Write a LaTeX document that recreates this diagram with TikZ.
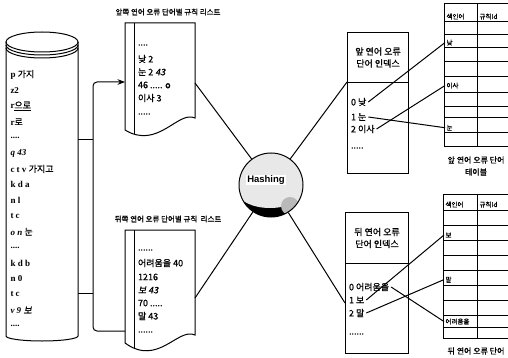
\documentclass[tikz,border=0pt]{standalone}
\usepackage{fontspec}
\setmainfont{Liberation Serif}
\setsansfont{Liberation Sans}
\newfontfamily\kr[FakeBold=0.8, AutoFakeSlant=0.2]{Noto Sans CJK KR}
\newcommand\hg[1]{{\kr\mdseries #1}}
\newcommand\dotsiv{....}
\newcommand\dotsv{.....}
\newcommand\dotsvi{......}
\usetikzlibrary{arrows.meta}

\begin{document}
\begin{tikzpicture}[>=Stealth, x=1pt, y=-1pt, line width=1pt,
    cyl/.style={anchor=west, inner sep=1pt, font=\bfseries\fontsize{9}{10}\selectfont},
    txt/.style={anchor=west, inner sep=1.5pt, font=\kr\fontsize{9}{10}\selectfont},
    ttl/.style={inner sep=1pt, font=\kr\fontsize{7.5}{8}\selectfont},
    tab/.style={anchor=south west, inner sep=1pt, font=\kr\fontsize{6.5}{7}\selectfont}]
\useasboundingbox (0,0) rectangle (508,358);

% corpus
\draw (6,42) -- (6,336) arc[start angle=180, end angle=0, x radius=36, y radius=5] -- (78,42);
\draw (42,42) ellipse [x radius=36, y radius=10];
\draw (6,45) arc[start angle=180, end angle=0, x radius=36, y radius=10];
\draw (6,48) arc[start angle=180, end angle=0, x radius=36, y radius=10];
\foreach \t [count=\i] in {p \hg{가지}, z2, r\hg{\underline{으로}}, r\hg{로}, \dotsiv, {\itshape q 43},
    c t v \hg{가지고}, k d a, n l, t c, {\itshape o n} \hg{눈}, \dotsiv, k d b, n 0, t c,
    {\itshape v 9} \hg{\itshape 보}, \dotsiv}
  \node[cyl] (c\i) at (9,59+15.7*\i) {\t};

\coordinate (cq) at (78,140);
\coordinate (cv) at (78,293);
\coordinate (fork) at (93,0);
\coordinate (fwdin) at (125,82);
\coordinate (bwdin) at (125,331);
\draw (cq) -- (cq -| fork);
\draw (cv) -- (cv -| fork);
\draw[<-, rounded corners=4] (fwdin) -| (fork |- bwdin) -- (bwdin);

% rule lists
\draw (125,23) -- (195,23) -- (195,118) .. controls (178,110) and (158,150) .. (125,130) -- cycle;
\draw (134,23) -- (134,134);
\draw (125,230) -- (195,230) -- (195,335) .. controls (178,327) and (158,367) .. (125,343) -- cycle;
\draw (134,230) -- (134,348);
\node[ttl] (fwdttl) at (168,12) {앞쪽 연어 오류 단어별 규칙 리스트};
\node[ttl] (bwdttl) at (168,219) {뒤쪽 연어 오류 단어별 규칙 \ 리스트};
\foreach \y/\t [count=\i] in {45/\dotsiv, 59/{낮 2}, 72/{눈 2 {\itshape 43}}, 85/{46 \dotsv{} o},
    98/{이사 3}, 114/\dotsv}
  \node[txt] (fl\i) at (136,\y) {\t};
\foreach \y/\t [count=\i] in {250/\dotsvi, 263/{어려움을 40}, 277/{1216}, 290/{\itshape 보 43},
    303/{70 \dotsv}, 316/{말 43}, 332/\dotsvi}
  \node[txt] (bl\i) at (136,\y) {\t};
\coordinate (fwdout) at (195,83);
\coordinate (bwdout) at (195,298);

% hashing
\fill[gray!18] (271,185) circle (32);
\begin{scope}
  \clip (271,185) circle (32);
  \fill[black] (266,212) ellipse [x radius=28, y radius=16];
  \fill[gray!18] (270,192) ellipse [x radius=32, y radius=16];
  \fill[gray!55] (290,206) circle (9);
\end{scope}
\node[circle, draw, minimum size=64, inner sep=0pt] (hash) at (271,185) {};
\node[inner sep=1pt, fill=white, font=\sffamily\bfseries\fontsize{9.5}{10}\selectfont] (hashlbl) at (266,180) {Hashing};

% index
\node[draw, anchor=north west, minimum width=61, minimum height=50, align=center,
      font=\kr\fontsize{9}{12}\selectfont] (fwdhead) at (347,32) {앞 연어 오류\\단어 인덱스};
\node[draw, anchor=north west, minimum width=61, minimum height=91] (fwdbody) at (347,82) {};
\node[txt] (fi0) at (349,102) {0 낮};
\node[txt] (fi1) at (349,117) {1 눈};
\node[txt] (fi2) at (349,129) {2 이사};
\node[txt] (fi3) at (349,148) {\dotsv};
\node[draw, anchor=north west, minimum width=63, minimum height=51, align=center,
      font=\kr\fontsize{9}{12}\selectfont] (bwdhead) at (345,212) {뒤 연어 오류\\단어 인덱스};
\node[draw, anchor=north west, minimum width=63, minimum height=90] (bwdbody) at (345,263) {};
\node[txt] (bi0) at (347,287) {0 어려움을};
\node[txt] (bi1) at (347,300) {1 보};
\node[txt] (bi2) at (347,313) {2 말};
\node[txt] (bi3) at (347,334) {\dotsvi};
\coordinate (bwdidx) at (345,303);

\draw (fwdout) -- (hash);
\draw (bwdout) -- (hash);
\draw (hash) -- (fwdbody.north west);
\draw (hash) -- (bwdidx);

% tables
\foreach \y in {4,22,35,48,62,77,93,107,118,133,147}
  \draw (444,\y) -- (510,\y);
\draw (444,4) -- (444,147);
\draw (477,4) -- (477,147);
\node[tab] (fh1) at (445,21) {색인어};
\node[tab] (fh2) at (478,21) {규칙Id};
\node[tab] (tnat) at (445,47) {낮};
\node[tab] (tisa) at (445,90) {이사};
\node[tab] (tnun) at (445,132) {눈};
\node[align=center, font=\kr\fontsize{8}{12}\selectfont] (fwdcap) at (476,166) {앞 연어 오류 단어\\테이블};

\foreach \y in {194,210,225,240,255,270,285,300,315,327,338}
  \draw (443,\y) -- (510,\y);
\draw (443,194) -- (443,338);
\draw (477,194) -- (477,338);
\node[tab] (bh1) at (444,209) {색인어};
\node[tab] (bh2) at (478,209) {규칙Id};
\node[tab] (tbo) at (444,239) {보};
\node[tab] (tmal) at (444,284) {말};
\node[tab] (tdif) at (444,326) {어려움을};
\node[font=\kr\fontsize{8}{9}\selectfont] (bwdcap) at (476,351) {뒤 연어 오류 단어};

\draw (fi0.east) -- (tnat.west);
\draw (fi1.east) -- (tnun.west);
\draw (fi2.east) -- (tisa.west);
\draw (bi0.east) -- (tdif.west);
\draw (bi1.east) -- (tbo.west);
\draw (bi2.east) -- (tmal.west);
\end{tikzpicture}
\end{document}
